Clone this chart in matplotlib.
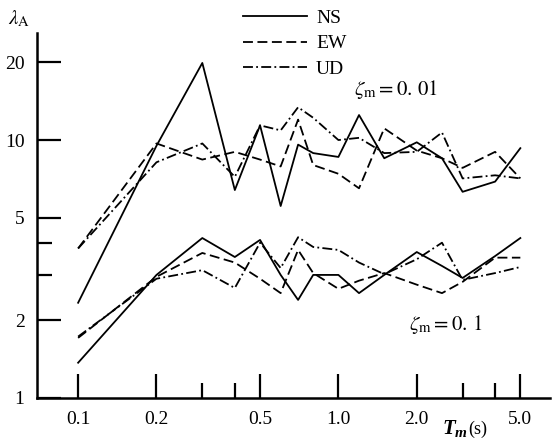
import matplotlib
matplotlib.use("Agg")
import matplotlib.pyplot as plt
from matplotlib.ticker import FixedLocator, NullFormatter, FixedFormatter

plt.rcParams['font.family'] = ['Liberation Serif', 'DejaVu Serif']
plt.rcParams['mathtext.fontset'] = 'stix'

# ---- data ----
periods = [0.1, 0.2, 0.3, 0.4, 0.5, 0.6, 0.7, 0.8, 1.0, 1.2, 1.5, 2.0, 2.5, 3.0, 4.0, 5.0]

ns_001 = [2.34, 9.5, 19.9, 6.4, 11.4, 5.55, 9.6, 8.9, 8.6, 12.5, 8.5, 9.8, 8.5, 6.3, 6.9, 9.3]
ew_001 = [3.8, 9.7, 8.4, 9.0, 8.4, 7.9, 12.0, 8.0, 7.4, 6.5, 11.1, 9.1, 8.5, 7.8, 9.0, 7.1]
ud_001 = [3.8, 8.2, 9.7, 7.2, 11.4, 10.9, 13.4, 12.2, 10.0, 10.2, 8.9, 9.0, 10.7, 7.1, 7.3, 7.1]

ns_01 = [1.37, 3.0, 4.17, 3.52, 4.1, 3.0, 2.4, 3.0, 3.0, 2.55, 3.0, 3.68, 3.25, 2.92, 3.55, 4.17]
ew_01 = [1.71, 2.95, 3.65, 3.35, 2.9, 2.55, 3.75, 3.05, 2.65, 2.85, 3.05, 2.75, 2.55, 2.82, 3.5, 3.5]
ud_01 = [1.73, 2.9, 3.13, 2.67, 4.0, 3.19, 4.2, 3.85, 3.75, 3.35, 3.02, 3.45, 4.0, 2.87, 3.05, 3.22]

series_names = ["NS", "EW", "UD"]
x_major = [0.1, 0.2, 0.5, 1.0, 2.0, 5.0]
x_major_labels = ["0.1", "0.2", "0.5", "1.0", "2.0", "5.0"]
x_minor = [0.3, 0.4, 3.0, 4.0]
y_major = [1, 2, 5, 10, 20]
y_major_labels = ["1", "2", "5", "10", "20"]
y_minor = [3, 4]

W, H = 552, 445
fig = plt.figure(figsize=(W / 100, H / 100), dpi=100)
ax = fig.add_axes([37 / W, 1 - 398 / H, (550 - 37) / W, (398 - 33) / H])
ax.set_xscale('log')
ax.set_yscale('log')
ax.set_xlim(0.0695, 6.5)
ax.set_ylim(1, 26)

lw = 1.3
styles = ['-', (0, (5.5, 2.5)), (0, (5.5, 1.8, 1.0, 1.8))]
for vals, name, ls in zip([ns_001, ew_001, ud_001], series_names, styles):
    ax.plot(periods, vals, color='black', lw=lw, linestyle=ls, label=name)
for vals, ls in zip([ns_01, ew_01, ud_01], styles):
    ax.plot(periods, vals, color='black', lw=lw, linestyle=ls)

for s in ['top', 'right']:
    ax.spines[s].set_visible(False)
for s in ['left', 'bottom']:
    ax.spines[s].set_linewidth(1.8)

ax.xaxis.set_major_locator(FixedLocator(x_major))
ax.xaxis.set_major_formatter(FixedFormatter(x_major_labels))
ax.xaxis.set_minor_locator(FixedLocator(x_minor))
ax.xaxis.set_minor_formatter(NullFormatter())
ax.yaxis.set_major_locator(FixedLocator(y_major))
ax.yaxis.set_major_formatter(FixedFormatter(y_major_labels))
ax.yaxis.set_minor_locator(FixedLocator(y_minor))
ax.yaxis.set_minor_formatter(NullFormatter())

ax.tick_params(which='major', direction='in', length=17, width=1.6, labelsize=14)
ax.tick_params(which='minor', direction='in', length=11, width=1.6)
ax.tick_params(axis='x', which='major', pad=9)
ax.tick_params(axis='y', which='major', pad=9)

leg = ax.legend(loc='upper left', bbox_to_anchor=(243 / W, 1 - 9 / H),
                bbox_transform=fig.transFigure, frameon=False,
                fontsize=14, handlelength=3.3, handletextpad=0.45,
                labelspacing=0.42, borderpad=0, borderaxespad=0)

fig.text(8 / W, 1 - 24 / H, r'$\lambda_{\mathrm{A}}$', fontsize=15, va='baseline', ha='left')
fig.text(354 / W, 1 - 95 / H, r'$\zeta_{\mathrm{m}} = 0.\,01$', fontsize=15, va='baseline', ha='left')
fig.text(409 / W, 1 - 330 / H, r'$\zeta_{\mathrm{m}} = 0.\,1$', fontsize=15, va='baseline', ha='left')
fig.text(442 / W, 1 - 434 / H, 'T', fontsize=15, fontweight='bold', fontstyle='italic',
         va='baseline', ha='left')
fig.text(455 / W, 1 - 437 / H, 'm', fontsize=11, fontweight='bold', fontstyle='italic',
         va='baseline', ha='left')
fig.text(468 / W, 1 - 434 / H, '(s)', fontsize=13, va='baseline', ha='left')

fig.savefig('out.png', dpi=100)
